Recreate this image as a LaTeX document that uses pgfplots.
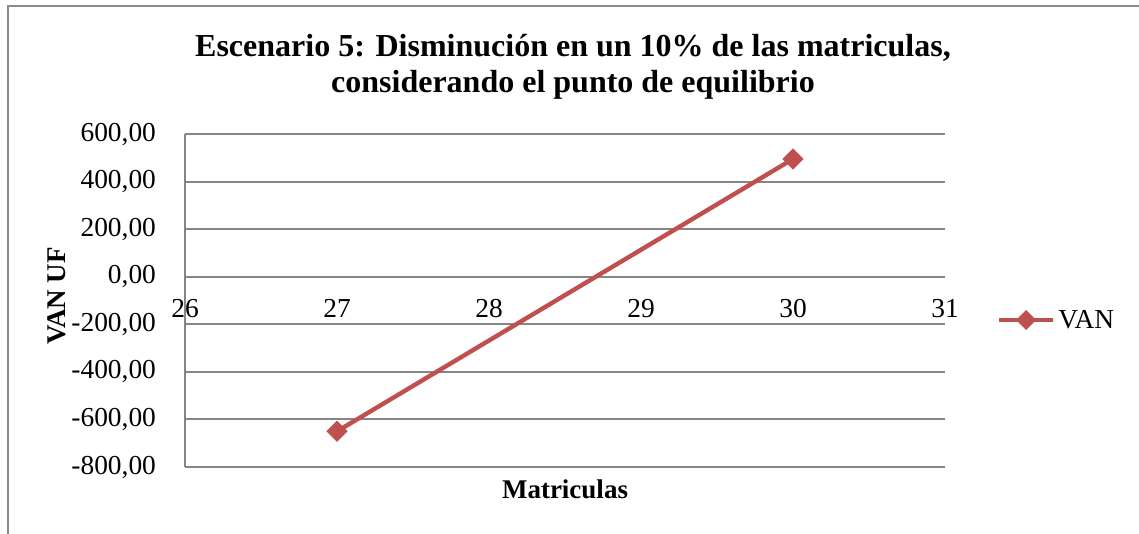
\documentclass[border=0pt]{standalone}
\usepackage{pgfplots}
\pgfplotsset{compat=1.18}
\usepackage{fontspec}
\setmainfont{Liberation Serif}
\definecolor{vanred}{HTML}{C0504D}
\definecolor{gridgray}{HTML}{868686}
\definecolor{framegray}{HTML}{8C8C8C}
\begin{document}
\begin{tikzpicture}
\useasboundingbox (-92.5pt,-33.5pt) rectangle (477pt,233.5pt);
\draw[framegray, line width=0.8pt] (-88.5pt,-40pt) -- (-88.5pt,230.5pt) -- (490pt,230.5pt);
\begin{axis}[
  at={(0pt,0pt)}, anchor=south west,
  scale only axis, width=380pt, height=166.5pt,
  xmin=26, xmax=31, ymin=-800, ymax=600,
  axis x line=middle, axis y line=left,
  axis line style={-, draw=gridgray, line width=1pt},
  hide obscured x ticks=false, hide obscured y ticks=false,
  xtick={26,27,28,29,30,31},
  xticklabels={26,27,28,29,30,31},
  ytick={-800,-600,-400,-200,0,200,400,600},
  yticklabels={{-800,00},{-600,00},{-400,00},{-200,00},{0,00},{200,00},{400,00},{600,00}},
  ymajorgrids, grid style={draw=gridgray, line width=1pt},
  major tick length=0pt,
  tick label style={font=\fontsize{13.7}{16}\selectfont},
  xticklabel style={anchor=center, yshift=-16pt},
  yticklabel style={anchor=east, xshift=-11pt},
  clip=false,
]
\addplot[color=vanred, line width=2.2pt, mark=square*, mark size=3.5pt,
  mark options={rotate=45, fill=vanred, draw=vanred, line width=0.5pt}]
  coordinates {(27,-650) (30,495)};
\end{axis}
\node[align=center, font=\fontsize{16}{18}\bfseries\selectfont] at (194pt,200pt)
  {Escenario 5: Disminución en un 10\% de las matriculas,\\considerando el punto de equilibrio};
\node[font=\fontsize{13.5}{16}\bfseries\selectfont] at (190pt,-11pt) {Matriculas};
\node[font=\fontsize{13.5}{16}\bfseries\selectfont, rotate=90] at (-64pt,85.5pt) {VAN UF};
% legend
\draw[vanred, line width=2.2pt] (407pt,73.5pt) -- (434pt,73.5pt);
\fill[vanred] (420.5pt,73.5pt) ++(-5pt,0) -- ++(5pt,5pt) -- ++(5pt,-5pt) -- ++(-5pt,-5pt) -- cycle;
\node[anchor=west, inner sep=0pt, font=\fontsize{13.7}{16}\selectfont] at (436.5pt,73.5pt) {VAN};
\end{tikzpicture}
\end{document}
